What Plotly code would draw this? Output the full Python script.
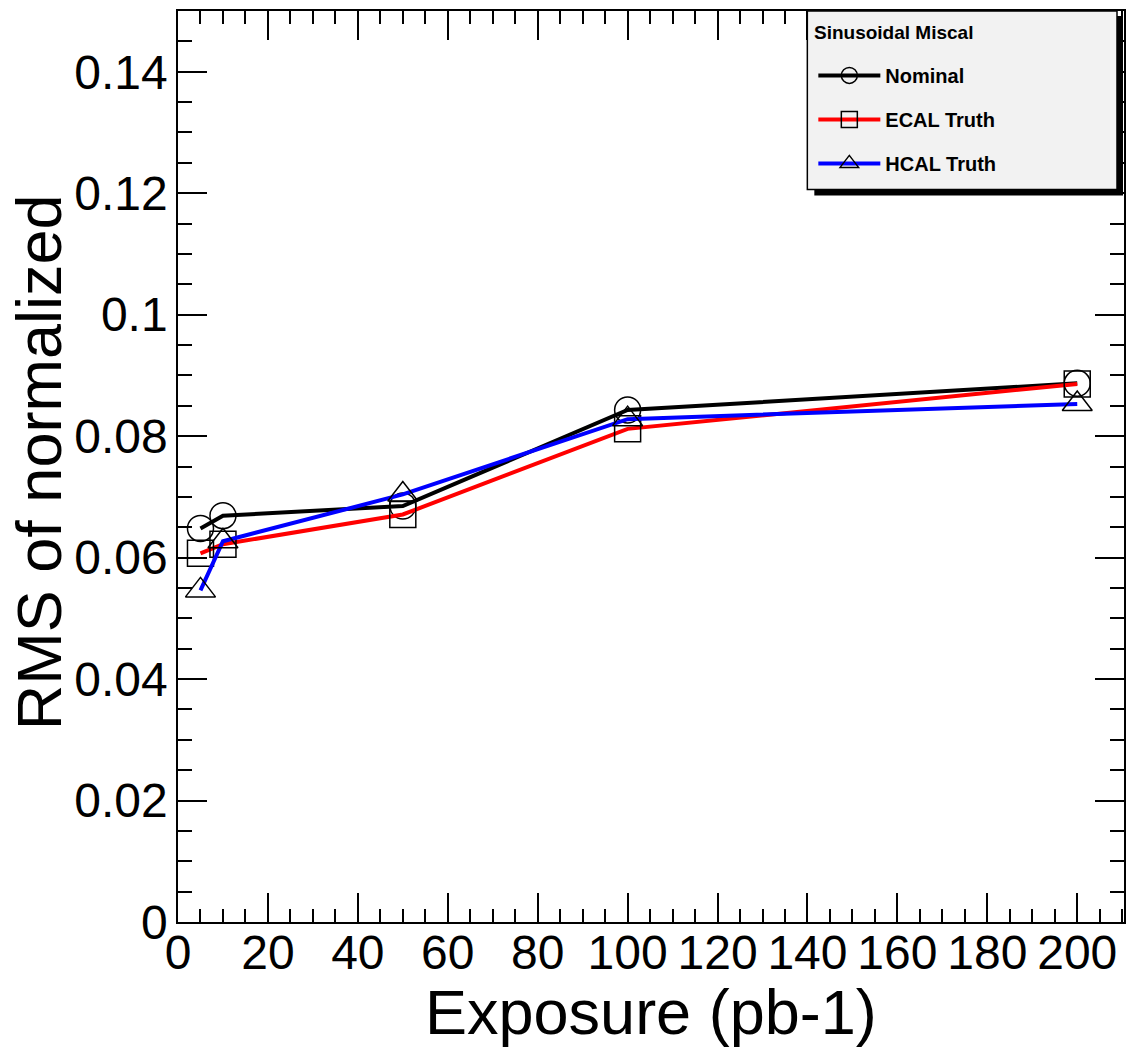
import plotly.graph_objects as go

# ---- data ----
exposure = [5, 10, 50, 100, 200]
nominal = [0.0648, 0.0669, 0.0685, 0.0843, 0.0887]
ecal_truth = [0.0607, 0.0622, 0.0671, 0.0812, 0.0886]
hcal_truth = [0.0546, 0.0627, 0.0704, 0.0828, 0.0853]

series_names = ["Nominal", "ECAL Truth", "HCAL Truth"]
series_values = [nominal, ecal_truth, hcal_truth]
line_colors = ["#000000", "#ff0000", "#0000ff"]
symbols = ["circle-open", "square-open", "triangle-up-open"]

FONT = "Liberation Sans, Arial, sans-serif"

fig = go.Figure()
for i, (name, vals) in enumerate(zip(series_names, series_values)):
    fig.add_trace(go.Scatter(
        x=exposure, y=vals, name=name, mode="lines+markers",
        legendgroup=f"g{i}",
        line=dict(color=line_colors[i], width=4),
        marker=dict(symbol=symbols[i], size=26, color="#000000",
                    line=dict(width=1.5, color="#000000")),
    ))

# plot area: left 178, right 1125, top 9, bottom 922 (pixels)
L, R, T, B = 178, 1125, 9, 922
W, H = 1135, 1051
def px(xp):
    return (xp - L) / (R - L)
def py(yp):
    return (B - yp) / (B - T)

shapes = [
    # legend shadow
    dict(type="rect", xref="paper", yref="paper",
         x0=px(815), x1=px(1124), y0=py(194), y1=py(14),
         fillcolor="#000000", line=dict(width=0), layer="above"),
    # legend box
    dict(type="rect", xref="paper", yref="paper",
         x0=px(808), x1=px(1118), y0=py(188), y1=py(9),
         fillcolor="#f2f2f2", line=dict(width=1.5, color="#000000"), layer="above"),
]

annotations = [
    dict(text="Exposure (pb-1)", xref="paper", yref="paper", x=0.5, y=py(1051 - 2),
         xanchor="center", yanchor="bottom", showarrow=False,
         font=dict(family=FONT, size=63, color="#000000")),
    dict(text="RMS of normalized", xref="paper", yref="paper", x=px(2), y=py(461),
         xanchor="left", yanchor="middle", textangle=-90, showarrow=False,
         font=dict(family=FONT, size=63, color="#000000")),
    dict(text="<b>Sinusoidal Miscal</b>", xref="paper", yref="paper", x=px(813), y=py(31),
         xanchor="left", yanchor="middle", showarrow=False,
         font=dict(family=FONT, size=19, color="#000000")),
]

axis_common = dict(
    showgrid=False, zeroline=False, showline=True, linecolor="#000000", linewidth=1.5,
    ticks="inside", ticklen=29, tickwidth=1.5, tickcolor="#000000", mirror="allticks",
    tickfont=dict(family=FONT, size=48, color="#000000"),
)

fig.update_xaxes(range=[0, 210.4], dtick=20, tick0=0,
                 minor=dict(dtick=5, ticks="inside", ticklen=13, tickwidth=1.5, tickcolor="#000000"),
                 ticklabelstandoff=-12, **axis_common)
fig.update_yaxes(range=[0, 0.15], dtick=0.02, tick0=0,
                 minor=dict(dtick=0.005, ticks="inside", ticklen=14, tickwidth=1.5, tickcolor="#000000"),
                 ticklabelstandoff=-1, **axis_common)

fig.update_layout(
    width=W, height=H,
    margin=dict(l=L, r=W - R, t=T, b=H - B, pad=0),
    paper_bgcolor="#ffffff", plot_bgcolor="#ffffff",
    font=dict(family=FONT, color="#000000"),
    shapes=shapes, annotations=annotations,
    showlegend=True,
    legend=dict(
        x=px(814), y=py(54), xanchor="left", yanchor="top",
        bgcolor="rgba(0,0,0,0)", borderwidth=0,
        font=dict(family=FONT, size=20, weight="bold", color="#000000"),
        traceorder="grouped", tracegroupgap=15, itemwidth=62,
    ),
)

fig.write_html("out.html")
